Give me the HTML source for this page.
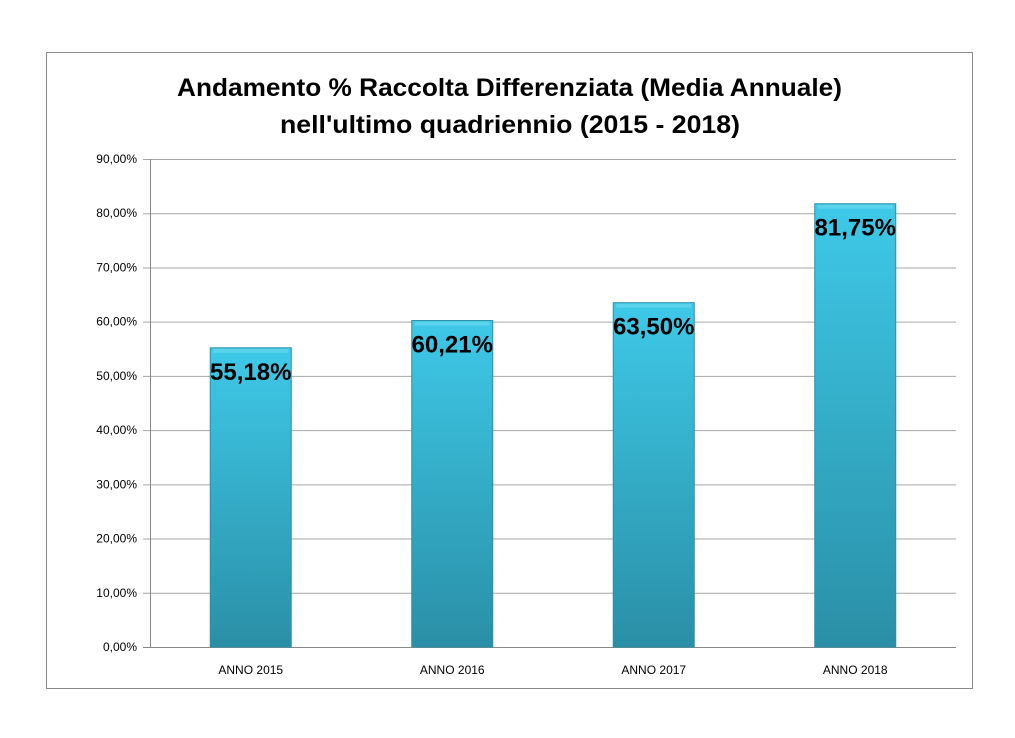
<!DOCTYPE html>
<html><head><meta charset="utf-8"><style>
body{margin:0;background:#fff;width:1015px;height:733px;overflow:hidden;font-family:"Liberation Sans",sans-serif}
</style></head><body>
<svg width="1015" height="733">
<defs>
<linearGradient id="g" x1="0" y1="0" x2="0" y2="1">
<stop offset="0" stop-color="#3ec9e8"/><stop offset="1" stop-color="#2a8fa6"/>
</linearGradient>
</defs>
<rect x="46.5" y="52.5" width="926" height="636" fill="#fff" stroke="#8a8a8a"/>
<text x="177" y="96" textLength="665" lengthAdjust="spacingAndGlyphs" font-size="25" font-weight="bold">Andamento % Raccolta Differenziata (Media Annuale)</text>
<text x="280" y="133" textLength="460" lengthAdjust="spacingAndGlyphs" font-size="25" font-weight="bold">nell'ultimo quadriennio (2015 - 2018)</text>
<g id="grid"></g><g id="bars"></g>
</svg>
<script>
const categories=["ANNO 2015","ANNO 2016","ANNO 2017","ANNO 2018"];
const values=[55.18,60.21,63.50,81.75];
const valueLabels=["55,18%","60,21%","63,50%","81,75%"];
const ticks=[0,10,20,30,40,50,60,70,80,90];
const tickLabels=["0,00%","10,00%","20,00%","30,00%","40,00%","50,00%","60,00%","70,00%","80,00%","90,00%"];
const NS="http://www.w3.org/2000/svg";
const L=150,R=956,T=159,B=647;
const y=v=>B-(v/90)*(B-T);
const bw=(R-L)/categories.length;
const x=i=>L+bw*(i+0.5);
function mk(t,a,p){const e=document.createElementNS(NS,t);for(const k in a)e.setAttribute(k,a[k]);p.appendChild(e);return e;}
const grid=document.getElementById('grid'),bars=document.getElementById('bars');
ticks.forEach((t,i)=>{
 const ln=mk('line',{x1:143,x2:R,y1:y(t)+0.5,y2:y(t)+0.5,stroke:i==0?'#888':'#a6a6a6'},grid);
 
 
 const tx=mk('text',{x:137,y:y(t)+4,'text-anchor':'end','font-size':12},grid);
 tx.textContent=tickLabels[i];
 
 
});
mk('line',{x1:150.5,x2:150.5,y1:T,y2:B,stroke:'#888'},grid);
categories.forEach((c,i)=>{
 const w=81,cx=x(i),top=y(values[i]);
 const r=mk('rect',{x:cx-w/2,y:top,width:w,height:B-top,fill:'url(#g)',stroke:'#2a8fa6','stroke-width':1},bars);
 
 
 mk('rect',{x:cx-w/2+3,y:top+1,width:w-6,height:4,fill:'#6fdaf0',opacity:0.6},bars);
 const vl=mk('text',{x:cx,y:top+32,'text-anchor':'middle','font-size':24,'font-weight':'bold'},bars);
 vl.textContent=valueLabels[i];
 
 
 const cl=mk('text',{x:cx,y:674,'text-anchor':'middle','font-size':12},bars);
 cl.textContent=c;
 
 
});
</script>
</body></html>
